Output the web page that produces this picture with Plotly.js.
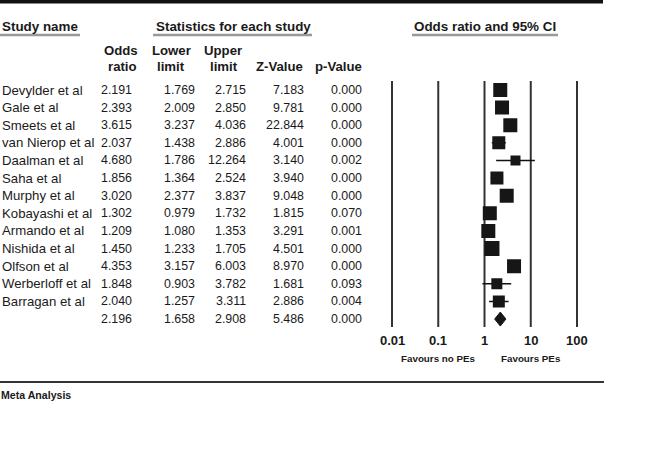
<!DOCTYPE html>
<html>
<head>
<meta charset="utf-8">
<script src="https://cdn.plot.ly/plotly-3.0.1.min.js"></script>
<style>html,body{margin:0;padding:0;background:#fff;}#chart{width:669px;height:470px;}</style>
</head>
<body>
<div id="chart"></div>
<script>
// ---- data ----
const studies = ["Devylder et al","Gale et al","Smeets et al","van Nierop et al","Daalman et al","Saha et al","Murphy et al","Kobayashi et al","Armando et al","Nishida et al","Olfson et al","Werberloff et al","Barragan et al"];
const oddsRatio = [2.191,2.393,3.615,2.037,4.680,1.856,3.020,1.302,1.209,1.450,4.353,1.848,2.040];
const lowerLimit = [1.769,2.009,3.237,1.438,1.786,1.364,2.377,0.979,1.080,1.233,3.157,0.903,1.257];
const upperLimit = [2.715,2.850,4.036,2.886,12.264,2.524,3.837,1.732,1.353,1.705,6.003,3.782,3.311];
const zValue = [7.183,9.781,22.844,4.001,3.140,3.940,9.048,1.815,3.291,4.501,8.970,1.681,2.886];
const pValue = [0.000,0.000,0.000,0.000,0.002,0.000,0.000,0.070,0.001,0.000,0.000,0.093,0.004];
const summaryOR = 2.196, summaryLower = 1.658, summaryUpper = 2.908, summaryZ = 5.486, summaryP = 0.000;
const tickVals = [0.01,0.1,1,10,100];
const tickLabels = ["0.01","0.1","1","10","100"];
// marker side (px) reflecting study weight
const markerSide = [14,14,14,13,10,13,14,14,14,15,14,11,12];

// ---- geometry helpers ----
const W = 669, H = 470;
const ROW0 = 90, ROWH = 17.62;
const rowOf = py => (py - ROW0) / ROWH;
const px = x => x / W;
const py = y => 1 - y / H;
const FONT = "Liberation Sans, Arial, Helvetica, sans-serif";
const TXT = "#1a1a1a";

const n = studies.length;
const rows = studies.map((_, i) => i);
const sumRow = n;

const traces = [];
// vertical reference lines at tick values
tickVals.forEach(t => {
  traces.push({x:[t,t], y:[rowOf(81), rowOf(327)], mode:"lines", line:{color:"#333", width:2}, hoverinfo:"skip", showlegend:false, cliponaxis:false});
});
// CI lines
const cx = [], cy = [];
rows.forEach(i => { cx.push(lowerLimit[i], upperLimit[i], null); cy.push(i, i, null); });
traces.push({x:cx, y:cy, mode:"lines", line:{color:"#111", width:1.5}, hoverinfo:"skip", showlegend:false});
// squares
traces.push({x:oddsRatio, y:rows, mode:"markers", marker:{symbol:"square", size:markerSide, color:"#161616", opacity:1, line:{width:0}}, showlegend:false, hoverinfo:"x"});
// summary diamond
const dh = 7 / ROWH;
traces.push({x:[summaryLower, summaryOR, summaryUpper, summaryOR, summaryLower], y:[sumRow, sumRow - dh, sumRow, sumRow + dh, sumRow], mode:"lines", fill:"toself", fillcolor:"#161616", line:{color:"#161616", width:1}, showlegend:false, hoverinfo:"skip"});

const ann = [];
function addText(text, xPx, row, anchor, size, bold) {
  ann.push({text: bold ? "<b>" + text + "</b>" : text, xref:"paper", x:px(xPx), yref:"y", y:row, xanchor:anchor, yanchor:"middle", showarrow:false, borderpad:0, font:{family:FONT, size:size, color:TXT}});
}
// table body
const colRight = {or:133, lo:195.5, up:247, z:305, p:363};
const BODY = 12.4;
rows.forEach(i => {
  addText(studies[i], 1, i, "left", 13.2);
  addText(oddsRatio[i].toFixed(3), colRight.or, i, "right", BODY);
  addText(lowerLimit[i].toFixed(3), colRight.lo, i, "right", BODY);
  addText(upperLimit[i].toFixed(3), colRight.up, i, "right", BODY);
  addText(zValue[i].toFixed(3), colRight.z, i, "right", BODY);
  addText(pValue[i].toFixed(3), colRight.p, i, "right", BODY);
});
addText(summaryOR.toFixed(3), colRight.or, sumRow, "right", BODY);
addText(summaryLower.toFixed(3), colRight.lo, sumRow, "right", BODY);
addText(summaryUpper.toFixed(3), colRight.up, sumRow, "right", BODY);
addText(summaryZ.toFixed(3), colRight.z, sumRow, "right", BODY);
addText(summaryP.toFixed(3), colRight.p, sumRow, "right", BODY);

// headers
addText("Study name", 1, rowOf(26), "left", 13.4, true);
addText("Statistics for each study", 233, rowOf(26), "center", 13.4, true);
addText("Odds ratio and 95% CI", 485, rowOf(26), "center", 13.4, true);
addText("Odds", 121, rowOf(50), "center", 13.2, true);
addText("ratio", 122, rowOf(66), "center", 13.2, true);
addText("Lower", 171, rowOf(50), "center", 13.2, true);
addText("limit", 171, rowOf(66), "center", 13.2, true);
addText("Upper", 223, rowOf(50), "center", 13.2, true);
addText("limit", 224, rowOf(66), "center", 13.2, true);
addText("Z-Value", 279, rowOf(66), "center", 13.2, true);
addText("p-Value", 338, rowOf(66), "center", 13.2, true);

// tick labels under forest
tickVals.forEach((t, k) => {
  ann.push({text:"<b>" + tickLabels[k] + "</b>", xref:"x", x:Math.log10(t), yref:"y", y:rowOf(340), xanchor:"center", yanchor:"middle", showarrow:false, borderpad:0, font:{family:FONT, size:13, color:TXT}});
});
ann.push({text:"<b>Favours no PEs</b>", xref:"x", x:Math.log10(0.1), yref:"y", y:rowOf(358), xanchor:"center", yanchor:"middle", showarrow:false, borderpad:0, font:{family:FONT, size:9.8, color:TXT}});
ann.push({text:"<b>Favours PEs</b>", xref:"x", x:Math.log10(10), yref:"y", y:rowOf(358), xanchor:"center", yanchor:"middle", showarrow:false, borderpad:0, font:{family:FONT, size:9.8, color:TXT}});
addText("Meta Analysis", 0, rowOf(395), "left", 10.6, true);

const shapes = [
  {type:"line", xref:"paper", yref:"paper", x0:0, x1:px(603), y0:py(1.7), y1:py(1.7), line:{color:"#111", width:3.5}},
  {type:"line", xref:"paper", yref:"paper", x0:0, x1:px(604), y0:py(382), y1:py(382), line:{color:"#333", width:2}},
  {type:"line", xref:"paper", yref:"paper", x0:0, x1:px(80), y0:py(35), y1:py(35), line:{color:"#999", width:2.5}},
  {type:"line", xref:"paper", yref:"paper", x0:px(153), x1:px(312), y0:py(35), y1:py(35), line:{color:"#999", width:2.5}},
  {type:"line", xref:"paper", yref:"paper", x0:px(412), x1:px(558), y0:py(35), y1:py(35), line:{color:"#999", width:2.5}}
];

const dec = 46.25; // px per decade
const layout = {
  width:W, height:H, margin:{l:0,r:0,t:0,b:0}, paper_bgcolor:"#fff", plot_bgcolor:"rgba(0,0,0,0)",
  xaxis:{type:"log", range:[-2.1, 2.1], domain:[px(392 - 0.1*dec), px(577 + 0.1*dec)], showgrid:false, zeroline:false, showline:false, showticklabels:false, ticks:"", fixedrange:true},
  yaxis:{range:[rowOf(H), rowOf(0)], domain:[0,1], showgrid:false, zeroline:false, showline:false, showticklabels:false, ticks:"", fixedrange:true},
  annotations:ann, shapes:shapes, showlegend:false
};
Plotly.newPlot("chart", traces, layout, {displayModeBar:false, staticPlot:true});
</script>
</body>
</html>
